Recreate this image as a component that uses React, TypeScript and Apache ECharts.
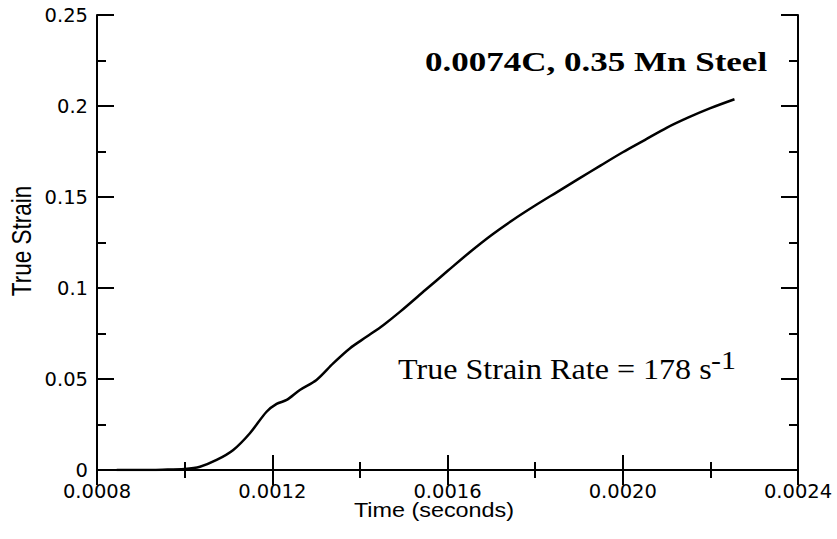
import React, { useEffect, useRef } from "react";
import * as echarts from "echarts";

// Time (seconds) and true strain
const timeSeconds = [
  0.000845, 0.0009, 0.00095, 0.001, 0.001035, 0.001073, 0.001111, 0.001149,
  0.001187, 0.00121, 0.001233, 0.001263, 0.001301, 0.001339, 0.001377,
  0.001416, 0.001454, 0.001492, 0.00155, 0.0016, 0.00165, 0.0017, 0.00175,
  0.0018, 0.00185, 0.0019, 0.00195, 0.002, 0.00205, 0.0021, 0.00215, 0.0022,
  0.002255,
];
const trueStrain = [
  0.0, 0.0, 0.0002, 0.0006, 0.0018, 0.0055, 0.011, 0.0202, 0.032, 0.0363,
  0.0385, 0.044, 0.0495, 0.0586, 0.0668, 0.0733, 0.0797, 0.087, 0.099, 0.1093,
  0.1195, 0.129, 0.1375, 0.1453, 0.1527, 0.1601, 0.1674, 0.1746, 0.1813,
  0.188, 0.1937, 0.1988, 0.2037,
];

const xAxisTicks = { min: 0.0008, max: 0.0024, interval: 0.0004 };
const yAxisTicks = { min: 0, max: 0.25, interval: 0.05 };

const titleText = "0.0074C, 0.35 Mn Steel";
const rateText = "True Strain Rate = 178 s";
const rateSup = "-1";
const xName = "Time (seconds)";
const yName = "True Strain";

export default function App() {
  const ref = useRef<HTMLDivElement>(null);
  useEffect(() => {
    if (!ref.current) return;
    const chart = echarts.init(ref.current, null, { renderer: "svg" });
    const axisLine = { show: true, lineStyle: { color: "#000", width: 2 } };
    const labelFont = { fontFamily: "DejaVu Sans", fontSize: 19.5, color: "#000" };
    const xCommon = {
      type: "value" as const,
      min: xAxisTicks.min,
      max: xAxisTicks.max,
      interval: xAxisTicks.interval,
      axisLine,
      axisTick: { show: true, inside: true, length: 15, lineStyle: { color: "#000", width: 2 } },
      minorTick: { show: true, splitNumber: 2, length: 8, lineStyle: { color: "#000", width: 2 } },
      splitLine: { show: false },
      minorSplitLine: { show: false },
    };
    const yCommon = {
      type: "value" as const,
      min: yAxisTicks.min,
      max: yAxisTicks.max,
      interval: yAxisTicks.interval,
      axisLine,
      axisTick: { show: true, inside: true, length: 17, lineStyle: { color: "#000", width: 2 } },
      minorTick: { show: true, splitNumber: 2, length: 9, lineStyle: { color: "#000", width: 2 } },
      splitLine: { show: false },
      minorSplitLine: { show: false },
    };
    chart.setOption({
      animation: false,
      backgroundColor: "#fff",
      grid: { left: 97, top: 15, right: 39, bottom: 69, containLabel: false },
      xAxis: [
        {
          ...xCommon,
          position: "bottom",
          axisLabel: {
            ...labelFont,
            margin: 14,
            lineHeight: 15,
            formatter: (v: number) => v.toFixed(4),
          },
        },
        { ...xCommon, position: "top", axisLabel: { show: false } },
      ],
      yAxis: [
        {
          ...yCommon,
          position: "left",
          axisLabel: {
            ...labelFont,
            margin: 9,
            lineHeight: 15,
            formatter: (v: number) => String(+v.toFixed(2)),
          },
        },
        { ...yCommon, position: "right", axisLabel: { show: false } },
      ],
      series: [
        {
          type: "line",
          xAxisIndex: 0,
          yAxisIndex: 0,
          data: timeSeconds.map((t, i) => [t, trueStrain[i]]),
          showSymbol: false,
          smooth: 0.3,
          lineStyle: { color: "#000", width: 2.5 },
        },
      ],
      graphic: [
        {
          type: "text",
          x: 425,
          y: 62,
          scaleX: 1.25,
          style: {
            text: titleText,
            fontFamily: "Liberation Serif",
            fontWeight: "bold",
            fontSize: 28,
            fill: "#000",
            textAlign: "left",
            textVerticalAlign: "middle",
          },
        },
        {
          type: "text",
          x: 398,
          y: 369,
          scaleX: 1.07,
          style: {
            text: rateText,
            fontFamily: "Liberation Serif",
            fontSize: 30,
            fill: "#000",
            textAlign: "left",
            textVerticalAlign: "middle",
          },
        },
        {
          type: "text",
          x: 711,
          y: 360,
          scaleX: 1.15,
          style: {
            text: rateSup,
            fontFamily: "Liberation Serif",
            fontSize: 26,
            fill: "#000",
            textAlign: "left",
            textVerticalAlign: "middle",
          },
        },
        {
          type: "text",
          x: 434,
          y: 511,
          scaleX: 1.2,
          style: {
            text: xName,
            fontFamily: "Liberation Sans",
            fontSize: 19.5,
            fill: "#000",
            textAlign: "center",
            textVerticalAlign: "middle",
          },
        },
        {
          type: "text",
          x: 22,
          y: 241,
          rotation: Math.PI / 2,
          scaleY: 1.2,
          style: {
            text: yName,
            fontFamily: "Liberation Sans",
            fontSize: 22.5,
            fill: "#000",
            textAlign: "center",
            textVerticalAlign: "middle",
          },
        },
      ],
    });
    return () => chart.dispose();
  }, []);
  return <div ref={ref} style={{ width: 837, height: 539, position: "absolute", left: 0, top: 0 }} />;
}
